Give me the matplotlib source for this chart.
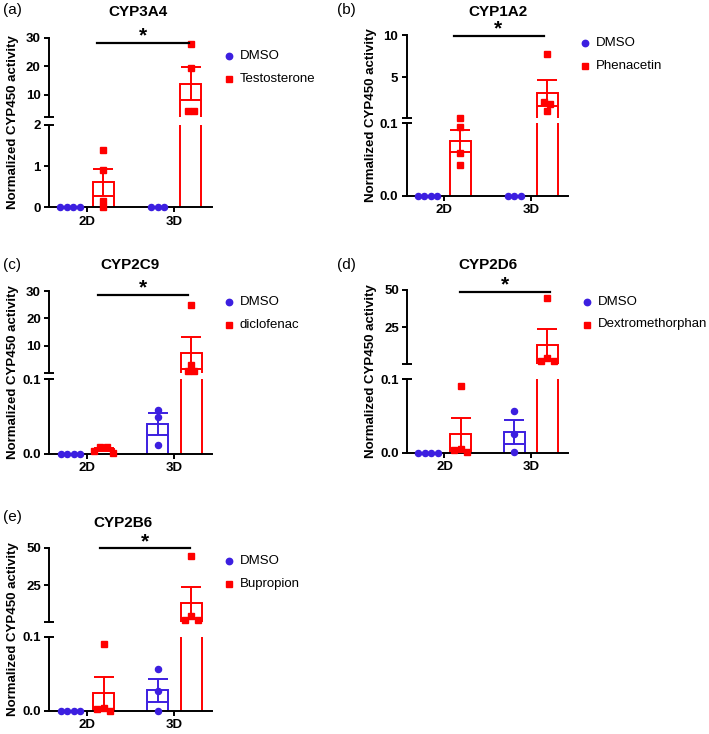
import numpy as np
import matplotlib.pyplot as plt
from matplotlib.lines import Line2D

plt.rcParams['font.family'] = ['Liberation Sans', 'DejaVu Sans']

W, H = 709, 734

# ---- data ----
panel_labels = ['(a)', '(b)', '(c)', '(d)', '(e)']
titles = ['CYP3A4', 'CYP1A2', 'CYP2C9', 'CYP2D6', 'CYP2B6']
substrates = ['Testosterone', 'Phenacetin', 'diclofenac', 'Dextromethorphan', 'Bupropion']
groups = ['2D', '3D']

# replicates: [DMSO 2D, substrate 2D, DMSO 3D, substrate 3D]
cyp3a4 = [[0, 0, 0, 0], [1.4, 0.9, 0.15, 0.0], [0, 0, 0], [27.8, 19.3, 4.2, 4.2]]
cyp1a2 = [[0, 0, 0, 0], [0.108, 0.095, 0.059, 0.042], [0, 0, 0], [7.75, 2.0, 1.8, 1.0]]
cyp2c9 = [[0, 0, 0, 0], [0.004, 0.002, 0.009, 0.010], [0.059, 0.050, 0.012], [25.0, 3.0, 0.7, 0.7]]
cyp2d6 = [[0, 0, 0, 0], [0.091, 0.0045, 0.003, 0.001], [0.057, 0.026, 0.0005], [44.5, 4.0, 1.8, 1.8]]
cyp2b6 = [[0, 0, 0, 0], [0.090, 0.003, 0.002, 0.0], [0.056, 0.026, 0.0], [44.7, 4.1, 1.9, 1.9]]
panels = [cyp3a4, cyp1a2, cyp2c9, cyp2d6, cyp2b6]

# broken y axis: lower segment 0..lower_top, upper segment upper_lims
lower_top = [2, 0.1, 0.1, 0.1, 0.1]
lower_ticks = [[0, 1, 2], [0, 0.1], [0, 0.1], [0, 0.1], [0, 0.1]]
lower_fmt = ['{:.0f}', '{:.1f}', '{:.1f}', '{:.1f}', '{:.1f}']
upper_lims = [(2, 30), (0.1, 10), (0.1, 30), (0.1, 50), (0.1, 50)]
upper_ticks = [[10, 20, 30], [5, 10], [10, 20, 30], [25, 50], [25, 50]]

# ---- layout (pixels from top-left) ----
# left, right, upper top, upper bottom, lower top, lower bottom
boxes = [
    (49, 212, 37.7, 117.3, 125, 207.3),
    (406.7, 568, 35, 118.3, 123.3, 195.7),
    (49.3, 212, 291, 372.7, 379.3, 454),
    (407.3, 568, 290, 364, 379.3, 452.7),
    (49.3, 212, 547.7, 622.3, 636.7, 710.7),
]
label_pos = [(3, 10), (337, 10), (3, 265), (337, 265), (3, 517)]
title_pos = [(138, 12), (498, 12), (130, 265), (488, 265), (123, 523)]
sig_lines = [(97, 189, 43.3), (454, 544, 36), (98, 188, 295), (460, 550, 292.3), (100, 190, 547.7)]
star_pos = [(143, 36), (498, 28.5), (143, 288), (505, 285), (145, 541.5)]
legend_pos = [(229, 55.7), (585, 43.3), (229, 301.7), (586.7, 301.7), (229, 560.7)]

BLUE = '#3C1FE0'
RED = '#FF0000'
LW = 1.4
XLIM = (-0.43, 1.43)
OFF = 0.19
BW = 0.24


def rect(l, r, t, b):
    return [l / W, 1 - b / H, (r - l) / W, (b - t) / H]


def fpt(x, y):
    return x / W, 1 - y / H


def spread(ax, xc, vals, step=6.5, tol=5.5):
    vals = np.asarray(vals, float)
    dy = ax.transData.transform(np.column_stack([np.full(len(vals), xc), vals]))[:, 1]
    order = np.argsort(dy)
    clusters = []
    for idx in order:
        if clusters and dy[idx] - dy[clusters[-1][-1]] < tol:
            clusters[-1].append(idx)
        else:
            clusters.append([idx])
    ppu = ax.transData.transform((1, 0))[0] - ax.transData.transform((0, 0))[0]
    xs = np.full(len(vals), xc, float)
    for cl in clusters:
        n = len(cl)
        slots = sorted(range(n), key=lambda k: abs(k - (n - 1) / 2) + 0.01 * k)
        cl = sorted(cl, key=lambda i: -vals[i])
        for idx, k in zip(cl, slots):
            xs[idx] = xc + (k - (n - 1) / 2) * step / ppu
    return xs


def open_bar(ax, x, mean, sem, c):
    # white body, outline without bottom edge, SEM whiskers
    ax.bar(x, mean, width=BW, facecolor='white', edgecolor='none', zorder=2)
    ax.plot([x - BW / 2, x - BW / 2, x + BW / 2, x + BW / 2], [0, mean, mean, 0],
            color=c, lw=LW, zorder=2.1, solid_joinstyle='miter')
    ax.errorbar(x, mean, yerr=sem, color=c, lw=LW, capsize=7, capthick=LW, zorder=2.2)


fig = plt.figure(figsize=(W / 100, H / 100), dpi=100)

for i in range(5):
    l, r, t1, b1, t2, b2 = boxes[i]
    ax_up = fig.add_axes(rect(l, r, t1, b1))
    ax_lo = fig.add_axes(rect(l, r, t2, b2))
    for ax in (ax_up, ax_lo):
        ax.set_xlim(*XLIM)
        ax.patch.set_visible(False)
        for s in ['top', 'right']:
            ax.spines[s].set_visible(False)
        ax.spines['left'].set_linewidth(LW)
        ax.spines['bottom'].set_linewidth(LW)
        ax.tick_params(direction='out', length=3.6, width=LW, labelsize=9.5, pad=2.5)
    ax_up.spines['bottom'].set_visible(False)
    ax_up.set_xticks([])
    ax_lo.set_ylim(0, lower_top[i])
    ax_up.set_ylim(*upper_lims[i])
    ax_lo.set_yticks(lower_ticks[i], [lower_fmt[i].format(v) for v in lower_ticks[i]],
                     fontweight='bold')
    ax_up.set_yticks(upper_ticks[i], [str(v) for v in upper_ticks[i]], fontweight='bold')
    ax_lo.set_xticks([0, 1], groups, fontweight='bold')

    # break marks
    ax_up.plot([0], [0], marker='_', ms=7.2, mew=LW, color='k',
               transform=ax_up.transAxes, clip_on=False)
    ax_lo.plot([0], [1], marker='_', ms=7.2, mew=LW, color='k',
               transform=ax_lo.transAxes, clip_on=False)

    xs = [0 - OFF, 0 + OFF, 1 - OFF, 1 + OFF]
    cols = [BLUE, RED, BLUE, RED]
    marks = ['o', 's', 'o', 's']
    for vals, x, c, m in zip(panels[i], xs, cols, marks):
        vals = np.asarray(vals, float)
        mean = vals.mean()
        sem = vals.std(ddof=1) / np.sqrt(len(vals))
        open_bar(ax_lo, x, mean, sem, c)
        if mean + sem > upper_lims[i][0]:
            open_bar(ax_up, x, mean, sem, c)
        in_lo = vals <= lower_top[i] * 1.15
        for ax, sel in ((ax_lo, in_lo), (ax_up, ~in_lo)):
            if sel.any():
                px = spread(ax, x, vals[sel])
                ax.plot(px, vals[sel], linestyle='none', marker=m, ms=4.4, color=c,
                        zorder=3, clip_on=False)

    # labels and annotations
    x0, y0 = fpt(*label_pos[i])
    fig.text(x0, y0, panel_labels[i], fontsize=11, ha='left', va='center')
    x0, y0 = fpt(*title_pos[i])
    fig.text(x0, y0, titles[i], fontsize=11, fontweight='bold', ha='center', va='center')
    x0, y0 = fpt(l - 36, (t1 + b2) / 2)
    fig.text(x0, y0, 'Normalized CYP450 activity', fontsize=9.5, fontweight='bold',
             rotation=90, ha='center', va='center')

    xa, xb, ys = sig_lines[i]
    fig.add_artist(Line2D([xa / W, xb / W], [1 - ys / H] * 2, color='k', lw=1.6,
                          transform=fig.transFigure))
    x0, y0 = fpt(*star_pos[i])
    fig.text(x0, y0, '*', fontsize=15, fontweight='bold', ha='center', va='center')

    mx, my = legend_pos[i]
    for k, (lab, c, m) in enumerate([('DMSO', BLUE, 'o'), (substrates[i], RED, 's')]):
        yy = my + k * 22.8
        fig.add_artist(Line2D([mx / W], [1 - yy / H], marker=m, ms=4.6, color=c,
                              linestyle='none', transform=fig.transFigure))
        fig.text((mx + 11) / W, 1 - yy / H, lab, fontsize=9.5, ha='left', va='center')

fig.savefig('out.png', dpi=100)
